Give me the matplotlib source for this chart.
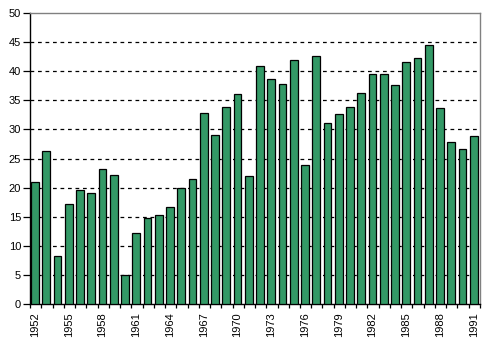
import matplotlib.pyplot as plt
import numpy as np

years = list(range(1952, 1992))
values = [20.9, 26.3, 8.3, 17.1, 19.6, 19.0, 23.2, 22.2, 4.9, 12.2,
          14.7, 15.3, 16.7, 19.9, 21.5, 32.8, 29.1, 33.9, 36.1, 22.0,
          40.9, 38.7, 37.8, 41.9, 23.9, 42.6, 31.1, 32.7, 33.8, 36.2,
          39.5, 39.5, 37.6, 41.6, 42.3, 44.5, 33.7, 27.8, 26.6, 28.9]
yticks = list(range(0, 55, 5))

plt.rcParams['font.family'] = ['Liberation Sans', 'DejaVu Sans']

fig = plt.figure(figsize=(4.93, 3.45), dpi=100)
ax = fig.add_axes([0.0609, 0.1188, 0.9127, 0.8435])

x = np.arange(len(years))
ax.bar(x - 0.06, values, width=0.68, color='#339966',
       edgecolor='black', linewidth=0.9, zorder=3)

ax.set_xlim(-0.5, len(years) - 0.5)
ax.set_ylim(0, 50)

# dashed grid for the inner ticks only; the top is the frame
for v in yticks[1:-1]:
    ax.axhline(v, color='black', linestyle=(0, (3, 3)), linewidth=0.9, zorder=1)

ax.set_yticks(yticks)
ax.tick_params(axis='y', direction='out', length=5, width=0.9,
               labelsize=8, pad=1.5)

# labels every third year under the bars, ticks between categories
ax.set_xticks(x[::3] - 0.06)
ax.set_xticklabels([str(y) for y in years[::3]], rotation=90, fontsize=8)
ax.set_xticks(np.arange(len(years) + 1) - 0.5, minor=True)
ax.tick_params(axis='x', which='major', length=0, pad=6)
ax.tick_params(axis='x', which='minor', direction='out', length=3, width=0.9)

for side in ['top', 'right']:
    ax.spines[side].set_color('#808080')
    ax.spines[side].set_linewidth(1.0)
for side in ['left', 'bottom']:
    ax.spines[side].set_color('black')
    ax.spines[side].set_linewidth(1.0)

fig.savefig('out.png', dpi=100)
